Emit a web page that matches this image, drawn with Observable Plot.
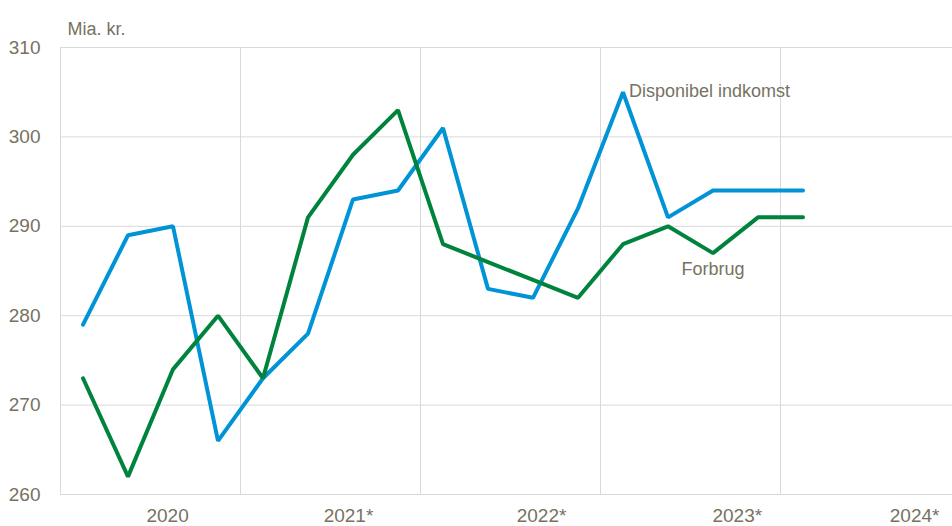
<!DOCTYPE html>
<html>
<head>
<meta charset="utf-8">
<script src="https://cdn.jsdelivr.net/npm/d3@7"></script>
<script src="https://cdn.jsdelivr.net/npm/@observablehq/plot@0.6"></script>
<style>
  html, body { margin: 0; padding: 0; background: #fff; }
  #chart svg { display: block; }
</style>
</head>
<body>
<div id="chart"></div>
<script>
// Quarters 2020K1 .. 2024K1
const quarters = ["2020K1","2020K2","2020K3","2020K4","2021K1","2021K2","2021K3","2021K4",
  "2022K1","2022K2","2022K3","2022K4","2023K1","2023K2","2023K3","2023K4","2024K1"];
const disponibelIndkomst = [279, 289, 290, 266, 273, 278, 293, 294, 301, 283, 282, 292, 305, 291, 294, 294, 294];
const forbrug = [273, 262, 274, 280, 273, 291, 298, 303, 288, 286, 284, 282, 288, 290, 287, 291, 291];
const yearLabels = ["2020", "2021*", "2022*", "2023*", "2024*"];
const yTicks = [260, 270, 280, 290, 300, 310];
const unitLabel = "Mia. kr.";

// layout (quarter units on the x axis)
const yearLabelPos = [2.38, 6.4, 10.69, 15.04, 18.98];
const yearBounds = [0, 4, 8, 12, 16];

const rows = [];
quarters.forEach((q, i) => {
  rows.push({q: i + 0.5, v: disponibelIndkomst[i], s: "Disponibel indkomst"});
  rows.push({q: i + 0.5, v: forbrug[i], s: "Forbrug"});
});

const txt = "#767262";
const font = "'Liberation Sans Narrow', 'Arial Narrow', 'Liberation Sans', sans-serif";

const chart = Plot.plot({
  width: 952,
  height: 526,
  marginLeft: 60,
  marginRight: 0,
  marginTop: 47,
  marginBottom: 32,
  style: {fontFamily: font, fontSize: "19px", color: txt, background: "#fff"},
  x: {domain: [0, 892 / 45], axis: null},
  y: {domain: [260, 310], axis: null},
  color: {domain: ["Disponibel indkomst", "Forbrug"], range: ["#0094d6", "#00843d"]},
  marks: [
    Plot.ruleY(yTicks, {stroke: "#d9d9d9", strokeWidth: 1}),
    Plot.ruleX(yearBounds, {stroke: "#d9d9d9", strokeWidth: 1}),
    Plot.text(yTicks, {x: 0, y: d => d, text: d => String(d), textAnchor: "end", dx: -20, fill: txt, fontSize: 19}),
    Plot.text(yearLabels, {x: (d, i) => yearLabelPos[i], y: 260, text: d => d, dy: 21, fill: txt, fontSize: 19}),
    Plot.text([unitLabel], {frameAnchor: "top-left", dx: 7, dy: -25, textAnchor: "start", fill: txt, fontSize: 18}),
    Plot.line(rows, {x: "q", y: "v", z: "s", stroke: "s", strokeWidth: 4, strokeLinecap: "round", strokeLinejoin: "miter"}),
    Plot.text([0], {x: 12.5, y: disponibelIndkomst[12], text: () => "Disponibel indkomst", textAnchor: "start", dx: 6, dy: -1, fill: txt, fontSize: 18}),
    Plot.text([0], {x: 14.5, y: forbrug[14], text: () => "Forbrug", textAnchor: "middle", dy: 16, fill: txt, fontSize: 18})
  ]
});
document.getElementById("chart").appendChild(chart);
</script>
</body>
</html>
